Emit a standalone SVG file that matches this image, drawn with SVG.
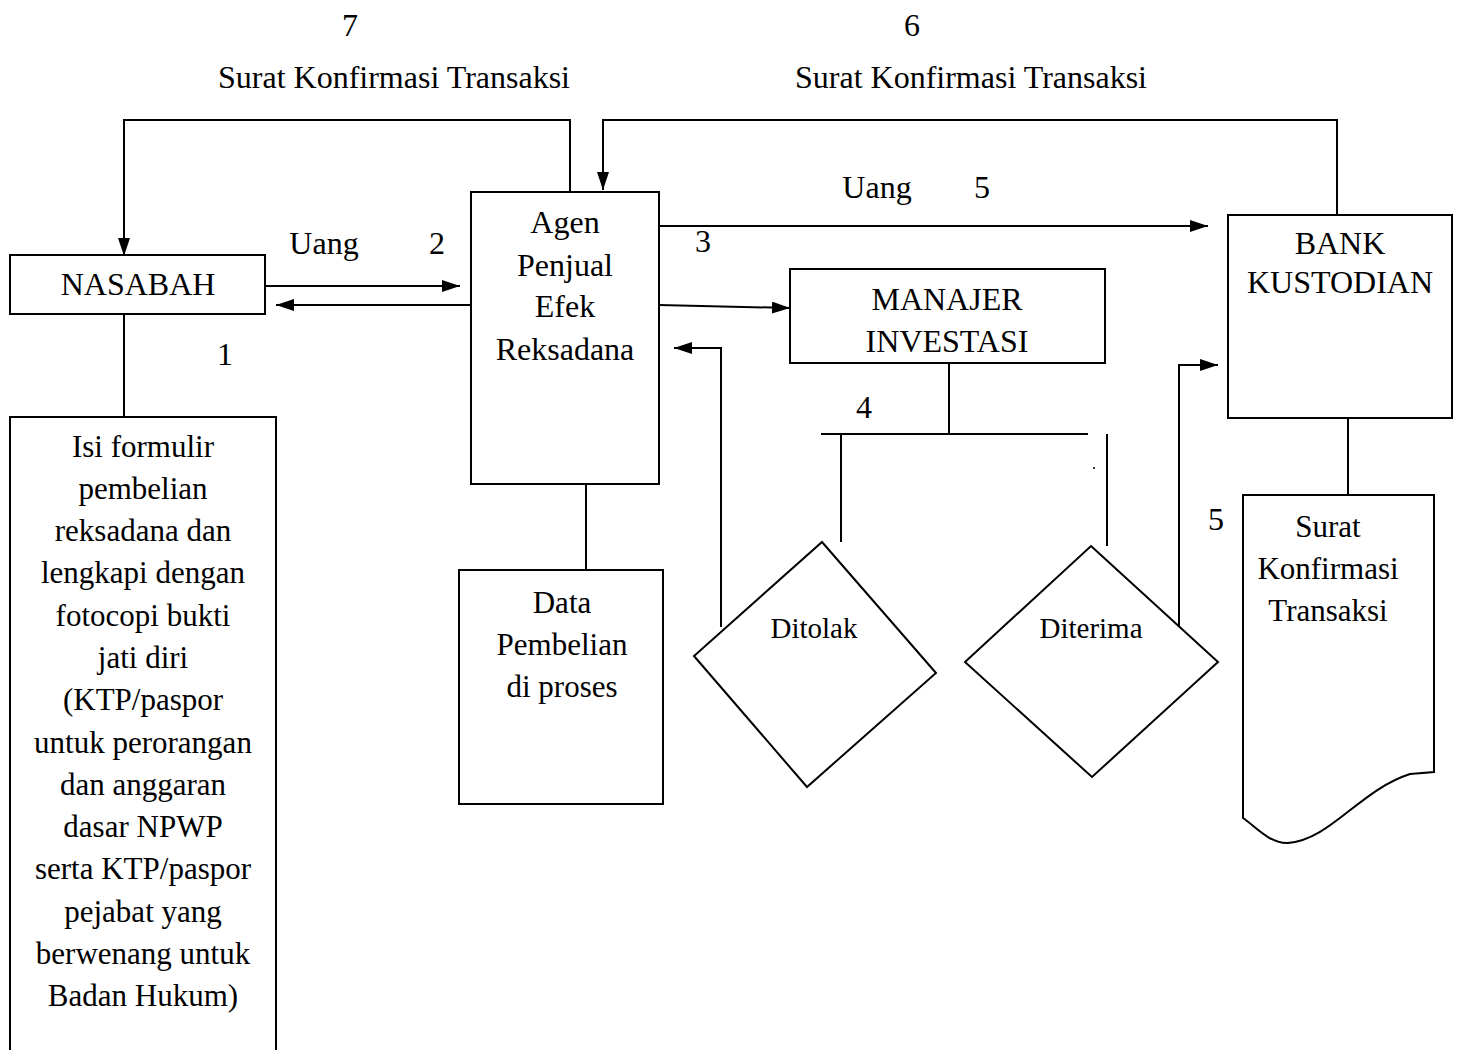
<svg xmlns="http://www.w3.org/2000/svg" width="1457" height="1050" viewBox="0 0 1457 1050">
<style>
text{font-family:"Liberation Serif","Times New Roman",serif;font-size:32px;fill:#000;text-anchor:middle}
.sm{font-size:29px}
.md{font-size:31px}
.box{fill:none;stroke:#000;stroke-width:2}
.ln{fill:none;stroke:#000;stroke-width:2}
.arr{marker-end:url(#ah)}
</style>
<defs>
<marker id="ah" markerUnits="userSpaceOnUse" markerWidth="18" markerHeight="12" refX="18" refY="6" orient="auto">
<path d="M0,0 L18,6 L0,12 z" fill="#000"/>
</marker>
</defs>
<rect width="1457" height="1050" fill="#fff"/>

<g id="labels">
<text x="350" y="36">7</text>
<text x="912" y="36">6</text>
<text x="394" y="88">Surat Konfirmasi Transaksi</text>
<text x="971" y="88">Surat Konfirmasi Transaksi</text>
<text x="324" y="254">Uang</text>
<text x="437" y="254">2</text>
<text x="225" y="365">1</text>
<text x="877" y="198">Uang</text>
<text x="982" y="198">5</text>
<text x="703" y="252">3</text>
<text x="864" y="418">4</text>
<text x="1216" y="530">5</text>
</g>

<g id="connectors">
<path class="ln arr" d="M570,192 V120 H124 V256"/>
<path class="ln arr" d="M1337,215 V120 H603 V190"/>
<path class="ln arr" d="M265,286 H460"/>
<path class="ln arr" d="M471,305 H276"/>
<path class="ln arr" d="M659,226 H1208"/>
<path class="ln arr" d="M659,305 L790,308"/>
<path class="ln" d="M949,364 V434"/>
<path class="ln" d="M821,434 H1088"/>
<path class="ln" d="M841,434 V542"/>
<path class="ln" d="M1107,434 V546"/>
<circle cx="1094" cy="468" r="1" fill="#000"/>
<path class="ln arr" d="M721,627 V348 H674"/>
<path class="ln arr" d="M1179,627 V365 H1218"/>
<path class="ln" d="M124,314 V416"/>
<path class="ln" d="M586,484 V570"/>
<path class="ln" d="M1348,418 V495"/>
</g>

<g id="nasabah">
<rect class="box" x="10" y="255" width="255" height="59"/>
<text x="138" y="295">NASABAH</text>
</g>

<g id="formulir">
<path class="box" d="M10,1050 V417 H276 V1050"/>
<text class="md" x="143" y="457">Isi formulir</text>
<text class="md" x="143" y="499">pembelian</text>
<text class="md" x="143" y="541">reksadana dan</text>
<text class="md" x="143" y="583">lengkapi dengan</text>
<text class="md" x="143" y="626">fotocopi bukti</text>
<text class="md" x="143" y="668">jati diri</text>
<text class="md" x="143" y="710">(KTP/paspor</text>
<text class="md" x="143" y="753">untuk perorangan</text>
<text class="md" x="143" y="795">dan anggaran</text>
<text class="md" x="143" y="837">dasar NPWP</text>
<text class="md" x="143" y="879">serta KTP/paspor</text>
<text class="md" x="143" y="922">pejabat yang</text>
<text class="md" x="143" y="964">berwenang untuk</text>
<text class="md" x="143" y="1006">Badan Hukum)</text>
</g>

<g id="agen">
<rect class="box" x="471" y="192" width="188" height="292"/>
<text x="565" y="233">Agen</text>
<text x="565" y="276">Penjual</text>
<text x="565" y="317">Efek</text>
<text x="565" y="360">Reksadana</text>
</g>

<g id="data">
<rect class="box" x="459" y="570" width="204" height="234"/>
<text class="md" x="562" y="613">Data</text>
<text class="md" x="562" y="655">Pembelian</text>
<text class="md" x="562" y="697">di proses</text>
</g>

<g id="manajer">
<rect class="box" x="790" y="269" width="315" height="94"/>
<text x="947" y="310">MANAJER</text>
<text x="947" y="352">INVESTASI</text>
</g>

<g id="bank">
<rect class="box" x="1228" y="215" width="224" height="203"/>
<text x="1340" y="254">BANK</text>
<text x="1340" y="293">KUSTODIAN</text>
</g>

<g id="ditolak">
<path class="box" d="M822,542 L936,673 L807,787 L694,656 Z"/>
<text class="sm" x="814" y="638">Ditolak</text>
</g>

<g id="diterima">
<path class="box" d="M1091,546 L1218,662 L1092,777 L965,662 Z"/>
<text class="sm" x="1091" y="638">Diterima</text>
</g>

<g id="surat">
<path class="box" d="M1243,495 H1434 V772 L1410,774 C1360,790 1330,840 1288,843 C1270,844 1255,826 1243,818 Z"/>
<text class="md" x="1328" y="537">Surat</text>
<text class="md" x="1328" y="579">Konfirmasi</text>
<text class="md" x="1328" y="621">Transaksi</text>
</g>
</svg>
